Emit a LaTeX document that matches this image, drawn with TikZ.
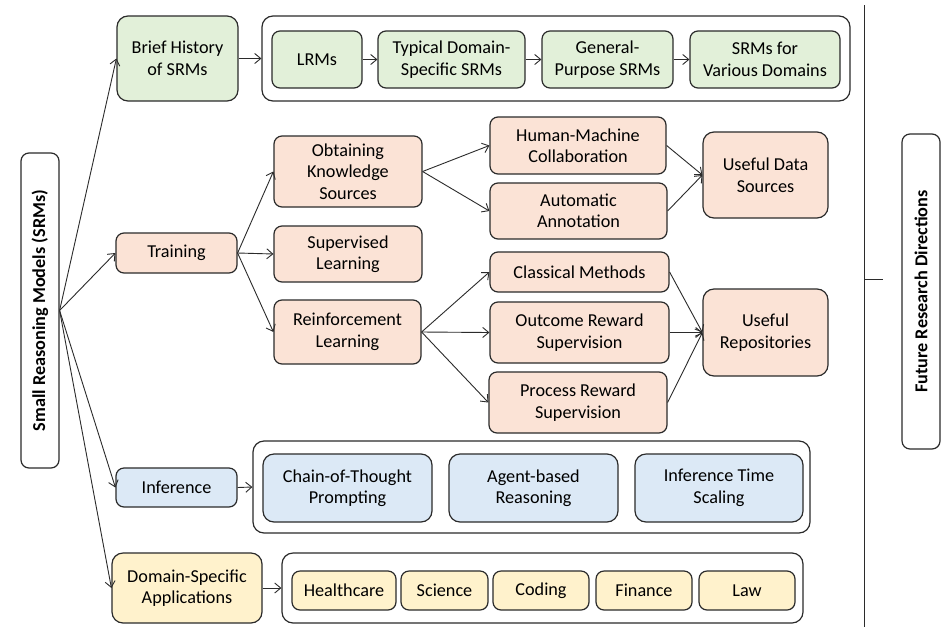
\documentclass[tikz,border=0pt]{standalone}
\usepackage{fontspec}
\setmainfont{Carlito}
\usetikzlibrary{arrows.meta}
\definecolor{cgreen}{HTML}{E2F0D9}
\definecolor{corange}{HTML}{FBE3D6}
\definecolor{cblue}{HTML}{DCE9F6}
\definecolor{cyellow}{HTML}{FFF2CC}
\definecolor{cline}{HTML}{2B2B2B}
\tikzset{
  bx/.style={draw=cline, line width=1.2pt, rounded corners=8pt, align=center, inner sep=0pt,
    font=\fontsize{18.2}{21.5}\selectfont},
  grp/.style={draw=cline, line width=1.2pt, rounded corners=11pt, inner sep=0pt, fill=white},
  gr/.style={bx, fill=cgreen},
  og/.style={bx, fill=corange},
  bl/.style={bx, fill=cblue},
  ye/.style={bx, fill=cyellow},
  vt/.style={draw=cline, line width=1.2pt, rounded corners=8pt, fill=white, inner sep=0pt},
  vtext/.style={rotate=90, font=\bfseries\fontsize{18.2}{21}\selectfont},
  arr/.style={draw=cline, line width=0.9pt, -{Straight Barb[length=6pt,width=10pt]}},
}
\begin{document}
\begin{tikzpicture}[x=1pt,y=-1pt]
\useasboundingbox (0,0) rectangle (944,627);
\fill[white] (0,0) rectangle (944,627);
% right divider
\coordinate (vtop) at (864,5);
\coordinate (vbot) at (864,627);
\coordinate (tka) at (864,279);
\coordinate (tkb) at (883,279);
\draw[cline, line width=0.9pt] (vtop) -- (vbot);
\draw[cline, line width=0.9pt] (tka) -- (tkb);
% root
\node[vt, minimum width=38pt, minimum height=315pt] (srm) at (40,310.5) {};
\node[vtext] (srmt) at (srm.center) {Small Reasoning Models (SRMs)};
\node[vt, minimum width=38pt, minimum height=315pt] (frd) at (921,291.5) {};
\node[vtext] (frdt) at (frd.center) {Future Research Directions};
% history
\node[gr, minimum width=121pt, minimum height=85pt, rounded corners=11pt] (bh) at (177.5,58.5) {Brief History\\of SRMs};
\node[grp, minimum width=588pt, minimum height=85pt] (g1) at (556,58.5) {};
\node[gr, minimum width=90pt, minimum height=57pt] (lrm) at (317,59.5) {LRMs};
\node[gr, minimum width=147pt, minimum height=57pt] (tds) at (451.5,59.5) {Typical Domain-\\Specific SRMs};
\node[gr, minimum width=131pt, minimum height=57pt] (gp) at (607.5,59.5) {General-\\Purpose SRMs};
\node[gr, minimum width=150pt, minimum height=57pt] (svd) at (765,59.5) {SRMs for\\Various Domains};
% training
\node[og, minimum width=121pt, minimum height=40pt] (train) at (176.5,253) {Training};
\node[og, minimum width=148pt, minimum height=71pt] (oks) at (348,171.5) {Obtaining\\Knowledge\\Sources};
\node[og, minimum width=148pt, minimum height=56pt] (sl) at (348,254) {Supervised\\Learning};
\node[og, minimum width=147pt, minimum height=64pt] (rl) at (347.5,332) {Reinforcement\\Learning};
\node[og, minimum width=176pt, minimum height=57pt] (hm) at (578,145.5) {Human-Machine\\Collaboration};
\node[og, minimum width=177pt, minimum height=56pt] (aa) at (578.5,211) {Automatic\\Annotation};
\node[og, minimum width=125pt, minimum height=86pt, rounded corners=11pt] (uds) at (765.5,175) {Useful Data\\Sources};
\node[og, minimum width=179pt, minimum height=40pt] (cm) at (579.5,272) {Classical Methods};
\node[og, minimum width=179pt, minimum height=61pt] (ors) at (579.5,332.5) {Outcome Reward\\Supervision};
\node[og, minimum width=178pt, minimum height=61pt] (prs) at (578,402.5) {Process Reward\\Supervision};
\node[og, minimum width=125pt, minimum height=87pt, rounded corners=11pt] (ur) at (765.5,332.5) {Useful\\Repositories};
% inference
\node[bl, minimum width=121pt, minimum height=39pt] (inf) at (176.5,487.5) {Inference};
\node[grp, minimum width=557pt, minimum height=92pt] (g3) at (531.5,487) {};
\node[bl, minimum width=169pt, minimum height=68pt, rounded corners=11pt] (cot) at (347.5,488) {Chain-of-Thought\\Prompting};
\node[bl, minimum width=169pt, minimum height=68pt, rounded corners=11pt] (ar) at (533.5,488) {Agent-based\\Reasoning};
\node[bl, minimum width=168pt, minimum height=68pt, rounded corners=11pt] (its) at (719,488) {Inference Time\\Scaling};
% applications
\node[ye, minimum width=150pt, minimum height=70pt, rounded corners=11pt] (dsa) at (187,588) {Domain-Specific\\Applications};
\node[grp, minimum width=521pt, minimum height=70pt] (g4) at (542.5,588) {};
\node[ye, minimum width=104pt, minimum height=39pt] (hc) at (344,590.5) {Healthcare};
\node[ye, minimum width=87pt, minimum height=39pt] (sci) at (444.5,590.5) {Science};
\node[ye, minimum width=96pt, minimum height=39pt] (cod) at (541,590.5) {Coding};
\node[ye, minimum width=96pt, minimum height=39pt] (fin) at (644,590.5) {Finance};
\node[ye, minimum width=96pt, minimum height=39pt] (law) at (747,590.5) {Law};
% connectors
\draw[arr] (srm.east) -- (bh.west);
\draw[arr] (srm.east) -- (train.west);
\draw[arr] (srm.east) -- (inf.west);
\draw[arr] (srm.east) -- (dsa.west);
\draw[arr] (bh.east) -- (g1.west);
\draw[arr] (lrm.east) -- (tds.west);
\draw[arr] (tds.east) -- (gp.west);
\draw[arr] (gp.east) -- (svd.west);
\draw[arr] (train.east) -- (oks.west);
\draw[arr] (train.east) -- (sl.west);
\draw[arr] (train.east) -- (rl.west);
\draw[arr] (oks.east) -- (hm.west);
\draw[arr] (oks.east) -- (aa.west);
\draw[arr] (hm.east) -- (uds.west);
\draw[arr] (aa.east) -- (uds.west);
\draw[arr] (rl.east) -- (cm.west);
\draw[arr] (rl.east) -- (ors.west);
\draw[arr] (rl.east) -- (prs.west);
\draw[arr] (cm.east) -- (ur.west);
\draw[arr] (ors.east) -- (ur.west);
\draw[arr] (prs.east) -- (ur.west);
\draw[arr] (inf.east) -- (g3.west);
\draw[arr] (dsa.east) -- (g4.west);
\end{tikzpicture}
\end{document}
